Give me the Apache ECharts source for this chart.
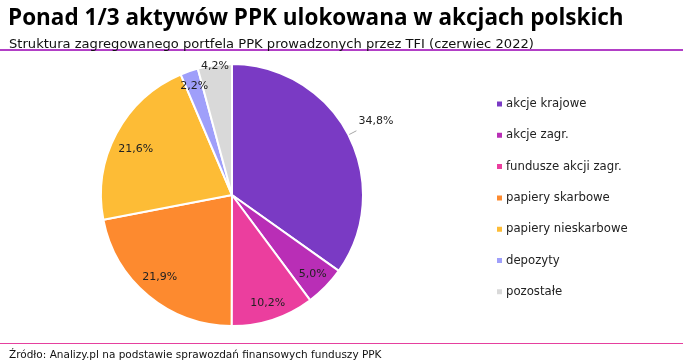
<!DOCTYPE html>
<html>
<head>
<meta charset="utf-8">
<script src="https://cdn.jsdelivr.net/npm/echarts@6/dist/echarts.min.js"></script>
<style>html,body{margin:0;padding:0;background:#fff;}#c{width:683px;height:360px;}</style>
</head>
<body>
<div id="c"></div>
<script>
const categories = ['akcje krajowe', 'akcje zagr.', 'fundusze akcji zagr.', 'papiery skarbowe', 'papiery nieskarbowe', 'depozyty', 'pozostałe'];
const values = [34.8, 5.0, 10.2, 21.9, 21.6, 2.2, 4.2];
const colors = ['#7a3ac4', '#b92eb6', '#eb3e9e', '#fd8a2f', '#fdbc36', '#9f9ffa', '#d9d9d9'];
// label placement styling for inside labels: fraction of radius and angular tweak (deg)
const labelRadius = [null, 0.84, 0.85, 0.81, 0.79, 0.86, 0.97];
const labelAngleAdj = [0, 0, 0, 1.9, -2.7, 0, 0];

const R = 131;
const total = values.reduce((a, b) => a + b, 0);
const midAngles = [];
let acc = 0;
values.forEach(v => { midAngles.push((acc + v / 2) / total * 2 * Math.PI); acc += v; });

const fmt = v => v.toFixed(1).replace('.', ',') + '%';

const chart = echarts.init(document.getElementById('c'), null, {renderer: 'canvas'});
chart.setOption({
  animation: false,
  title: [
    {
      text: 'Ponad 1/3 aktywów PPK ulokowana w akcjach polskich',
      left: 3, top: 2,
      textStyle: {fontFamily: 'Open Sans', fontWeight: 'bold', fontSize: 22.5, color: '#000'}
    },
    {
      text: 'Struktura zagregowanego portfela PPK prowadzonych przez TFI (czerwiec 2022)',
      left: 4, top: 33,
      textStyle: {fontFamily: 'DejaVu Sans', fontWeight: 'normal', fontSize: 13.1, color: '#111'}
    },
    {
      text: 'Źródło: Analizy.pl na podstawie sprawozdań finansowych funduszy PPK',
      left: 4, top: 345,
      textStyle: {fontFamily: 'DejaVu Sans', fontWeight: 'normal', fontSize: 10.5, color: '#111'}
    }
  ],
  graphic: [
    {type: 'rect', shape: {x: 0, y: 49, width: 683, height: 2}, style: {fill: '#b23fc6'}},
    {type: 'rect', shape: {x: 0, y: 343, width: 683, height: 1}, style: {fill: '#e5409e'}}
  ],
  legend: {
    orient: 'vertical',
    left: 490, top: 93,
    itemWidth: 7, itemHeight: 7,
    itemGap: 19.3,
    icon: 'rect',
    textStyle: {fontFamily: 'DejaVu Sans', fontSize: 11.7, color: '#222', padding: [0, 0, 0, -2]},
    data: categories
  },
  series: [{
    type: 'pie',
    center: [232, 195],
    radius: [0, R],
    startAngle: 90,
    clockwise: true,
    color: colors,
    itemStyle: {borderColor: '#fff', borderWidth: 2},
    label: {
      show: true,
      position: 'inside',
      formatter: p => fmt(p.value),
      fontFamily: 'DejaVu Sans', fontSize: 11, color: '#222'
    },
    labelLine: {show: false},
    labelLayout: function (p) {
      const i = p.dataIndex;
      if (labelRadius[i] == null) return {dx: 0, dy: -10};
      const a0 = midAngles[i];
      const a = a0 + labelAngleAdj[i] * Math.PI / 180;
      const r1 = labelRadius[i] * R, r0 = R / 2;
      return {
        dx: r1 * Math.sin(a) - r0 * Math.sin(a0),
        dy: -r1 * Math.cos(a) + r0 * Math.cos(a0)
      };
    },
    data: categories.map((c, i) => {
      const d = {name: c, value: values[i]};
      if (i === 0) {
        d.label = {position: 'outside', distanceToLabelLine: 2};
        d.labelLine = {show: true, length: 9, length2: 0, lineStyle: {color: '#a6a6a6', width: 1}};
      }
      return d;
    })
  }]
});
</script>
</body>
</html>
